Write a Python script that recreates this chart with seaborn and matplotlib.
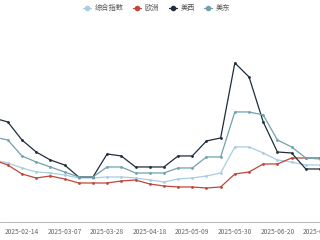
import numpy as np
import pandas as pd
import matplotlib
matplotlib.use("Agg")
import matplotlib.pyplot as plt
import matplotlib.dates as mdates
import seaborn as sns

dates = pd.date_range("2025-01-31", "2025-07-11", freq="7D")
composite = [62, 59, 54, 50, 49, 47, 44, 44, 45, 45, 44, 42, 40, 43, 44, 46, 49, 75, 75, 69, 62, 60, 57, 57]
europe = [62, 57, 48, 44, 46, 43, 39, 39, 39, 41, 42, 38, 36, 35, 35, 34, 35, 48, 50, 58, 58, 64, 64, 64]
us_west = [104, 100, 82, 70, 62, 57, 45, 45, 68, 66, 55, 55, 55, 66, 66, 81, 84, 159, 145, 100, 70, 69, 53, 53]
us_east = [85, 82, 66, 60, 55, 50, 45, 45, 55, 55, 49, 49, 49, 54, 54, 65, 65, 110, 110, 107, 82, 75, 64, 63]
series_names = ["综合指数", "欧洲", "美西", "美东"]
tick_dates = pd.date_range("2025-02-14", "2025-07-11", freq="21D")

df = pd.concat([
    pd.DataFrame({"date": dates, "value": vals, "series": name})
    for name, vals in zip(series_names, [composite, europe, us_west, us_east])
])

sns.set_theme(style="white")
plt.rcParams["font.family"] = ["Noto Sans CJK SC", "DejaVu Sans"]

palette = {"综合指数": "#a9cde0", "欧洲": "#c0463a", "美西": "#1f2d3d", "美东": "#6fa3ad"}

fig = plt.figure(figsize=(3.2, 2.4), dpi=100)
ax = fig.add_axes([0, 0.075, 1, 0.842])
sns.lineplot(data=df, x="date", y="value", hue="series", hue_order=series_names,
             palette=palette, marker="o", markersize=2.0, markeredgewidth=0,
             linewidth=0.9, ax=ax, legend=True)

ax.set_xlim(pd.Timestamp("2025-02-03 04:00"), pd.Timestamp("2025-07-11"))
ax.set_ylim(0, 202)
ax.set_xticks(tick_dates)
ax.xaxis.set_major_formatter(mdates.DateFormatter("%Y-%m-%d"))
ax.tick_params(axis="x", labelsize=4.8, colors="#666666", length=2, width=0.6, pad=2)
ax.set_yticks([])
ax.set_xlabel("")
ax.set_ylabel("")
for s in ["top", "left", "right"]:
    ax.spines[s].set_visible(False)
ax.spines["bottom"].set_color("#aaaaaa")
ax.spines["bottom"].set_linewidth(0.6)
for lbl in ax.get_xticklabels():
    lbl.set_ha("center")

leg = ax.legend(loc="upper center", bbox_to_anchor=(0.49, 1.11), ncol=4, frameon=False,
                fontsize=5.2, handlelength=1.1, columnspacing=1.3, handletextpad=0.5,
                markerscale=2.0)
for t in leg.get_texts():
    t.set_color("#555555")

fig.savefig("out.png", dpi=100)
